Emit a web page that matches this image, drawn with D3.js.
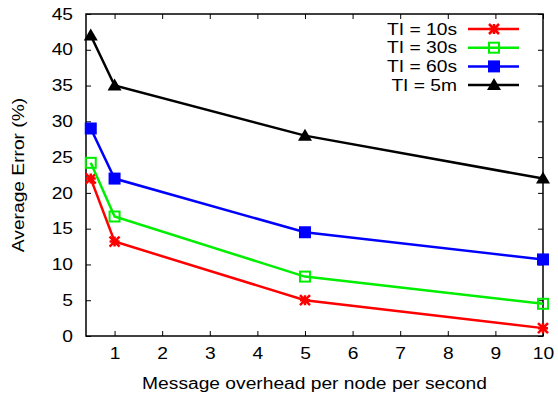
<!DOCTYPE html>
<html>
<head>
<meta charset="utf-8">
<script src="https://cdn.jsdelivr.net/npm/d3@7"></script>
<style>
  body { margin: 0; background: #fff; }
  svg { font-family: "Liberation Sans", Arial, sans-serif; }
</style>
</head>
<body>
<svg id="chart" width="558" height="397"></svg>
<script>
// Data
const overhead = [0.5, 1, 5, 10];
const ti10s = [22, 13.2, 5, 1.1];
const ti30s = [24.2, 16.7, 8.3, 4.5];
const ti60s = [29, 22, 14.5, 10.7];
const ti5m = [42, 35, 28, 22];
const seriesNames = ['TI = 10s', 'TI = 30s', 'TI = 60s', 'TI = 5m'];
const seriesColors = ['#ff0000', '#00ee00', '#0000ff', '#000000'];
const seriesMarkers = ['star', 'openSquare', 'square', 'triangle'];
const xTicks = [1, 2, 3, 4, 5, 6, 7, 8, 9, 10];
const yTicks = [0, 5, 10, 15, 20, 25, 30, 35, 40, 45];

const allSeries = [ti10s, ti30s, ti60s, ti5m];

const svg = d3.select('#chart');
const margin = { top: 14, right: 15, bottom: 61, left: 86 };
const width = 558 - margin.left - margin.right;
const height = 397 - margin.top - margin.bottom;

// The reference font is a bit wider than Liberation Sans, so stretch text
const textStretch = 1.2;
function stretch(sel) {
  sel.each(function () {
    const len = this.getComputedTextLength();
    d3.select(this)
      .attr('textLength', len * textStretch)
      .attr('lengthAdjust', 'spacingAndGlyphs');
  });
}

const chart = svg.append('g')
  .attr('transform', `translate(${margin.left},${margin.top})`);

// Scales
const xScale = d3.scaleLinear().domain([0.4, 10]).range([0, width]);
const yScale = d3.scaleLinear().domain([0, 45]).range([height, 0]);

// Axes with inward ticks, mirrored on top and right
const tickLen = 5;
chart.append('g')
  .attr('class', 'x-axis')
  .attr('transform', `translate(0,${height})`)
  .call(d3.axisBottom(xScale).tickValues(xTicks).tickSizeInner(-tickLen).tickSizeOuter(0).tickPadding(12))
  .call((g) => g.select('.domain').remove());
chart.append('g')
  .call(d3.axisTop(xScale).tickValues(xTicks).tickSizeInner(-tickLen).tickSizeOuter(0).tickFormat(''))
  .call((g) => g.select('.domain').remove());
chart.append('g')
  .attr('class', 'y-axis')
  .call(d3.axisLeft(yScale).tickValues(yTicks).tickSizeInner(-tickLen).tickSizeOuter(0).tickPadding(13))
  .call((g) => g.select('.domain').remove());
chart.append('g')
  .attr('transform', `translate(${width},0)`)
  .call(d3.axisRight(yScale).tickValues(yTicks).tickSizeInner(-tickLen).tickSizeOuter(0).tickFormat(''))
  .call((g) => g.select('.domain').remove());

chart.selectAll('.tick text')
  .style('font-size', '16px')
  .style('fill', '#000')
  .call(stretch);
chart.selectAll('.tick line').attr('stroke', '#000');

// Frame
chart.append('rect')
  .attr('width', width)
  .attr('height', height)
  .attr('fill', 'none')
  .attr('stroke', '#000')
  .attr('stroke-width', 1.5);

// Marker drawing
function drawMarker(g, type, color) {
  if (type === 'star') {
    const s = 5;
    g.append('path')
      .attr('d', `M${-s},${-s}L${s},${s}M${-s},${s}L${s},${-s}M0,${-s}L0,${s}M${-s},0L${s},0`)
      .attr('stroke', color).attr('stroke-width', 2.5).attr('fill', 'none');
  } else if (type === 'openSquare') {
    g.append('rect')
      .attr('x', -5).attr('y', -5).attr('width', 10).attr('height', 10)
      .attr('fill', 'none').attr('stroke', color).attr('stroke-width', 2);
  } else if (type === 'square') {
    g.append('rect')
      .attr('x', -6).attr('y', -6).attr('width', 12).attr('height', 12)
      .attr('fill', color);
  } else {
    g.append('path')
      .attr('d', 'M0,-7L7,5L-7,5Z')
      .attr('fill', color);
  }
}

// Lines and markers
const line = d3.line()
  .x((d, i) => xScale(overhead[i]))
  .y((d) => yScale(d));

allSeries.forEach((values, k) => {
  chart.append('path')
    .datum(values)
    .attr('d', line)
    .attr('fill', 'none')
    .attr('stroke', seriesColors[k])
    .attr('stroke-width', 2.5);

  values.forEach((v, i) => {
    const m = chart.append('g')
      .attr('transform', `translate(${xScale(overhead[i])},${yScale(v)})`);
    drawMarker(m, seriesMarkers[k], seriesColors[k]);
  });
});

// Legend
const legend = svg.append('g').attr('transform', 'translate(457,29)');
seriesNames.forEach((name, k) => {
  const row = legend.append('g').attr('transform', `translate(0,${k * 18.7})`);
  row.append('text')
    .attr('x', 0)
    .attr('y', 0)
    .attr('dy', '0.35em')
    .attr('text-anchor', 'end')
    .style('font-size', '16px')
    .text(name)
    .call(stretch);
  row.append('line')
    .attr('x1', 11).attr('x2', 62)
    .attr('stroke', seriesColors[k])
    .attr('stroke-width', 2.5);
  const m = row.append('g').attr('transform', 'translate(37,0)');
  drawMarker(m, seriesMarkers[k], seriesColors[k]);
});

// Axis titles
svg.append('text')
  .attr('x', margin.left + width / 2)
  .attr('y', 389)
  .attr('text-anchor', 'middle')
  .style('font-size', '16px')
  .text('Message overhead per node per second')
  .call(stretch);

svg.append('text')
  .attr('transform', `translate(24,${margin.top + height / 2}) rotate(-90)`)
  .attr('text-anchor', 'middle')
  .style('font-size', '16px')
  .text('Average Error (%)')
  .call(stretch);
</script>
</body>
</html>
